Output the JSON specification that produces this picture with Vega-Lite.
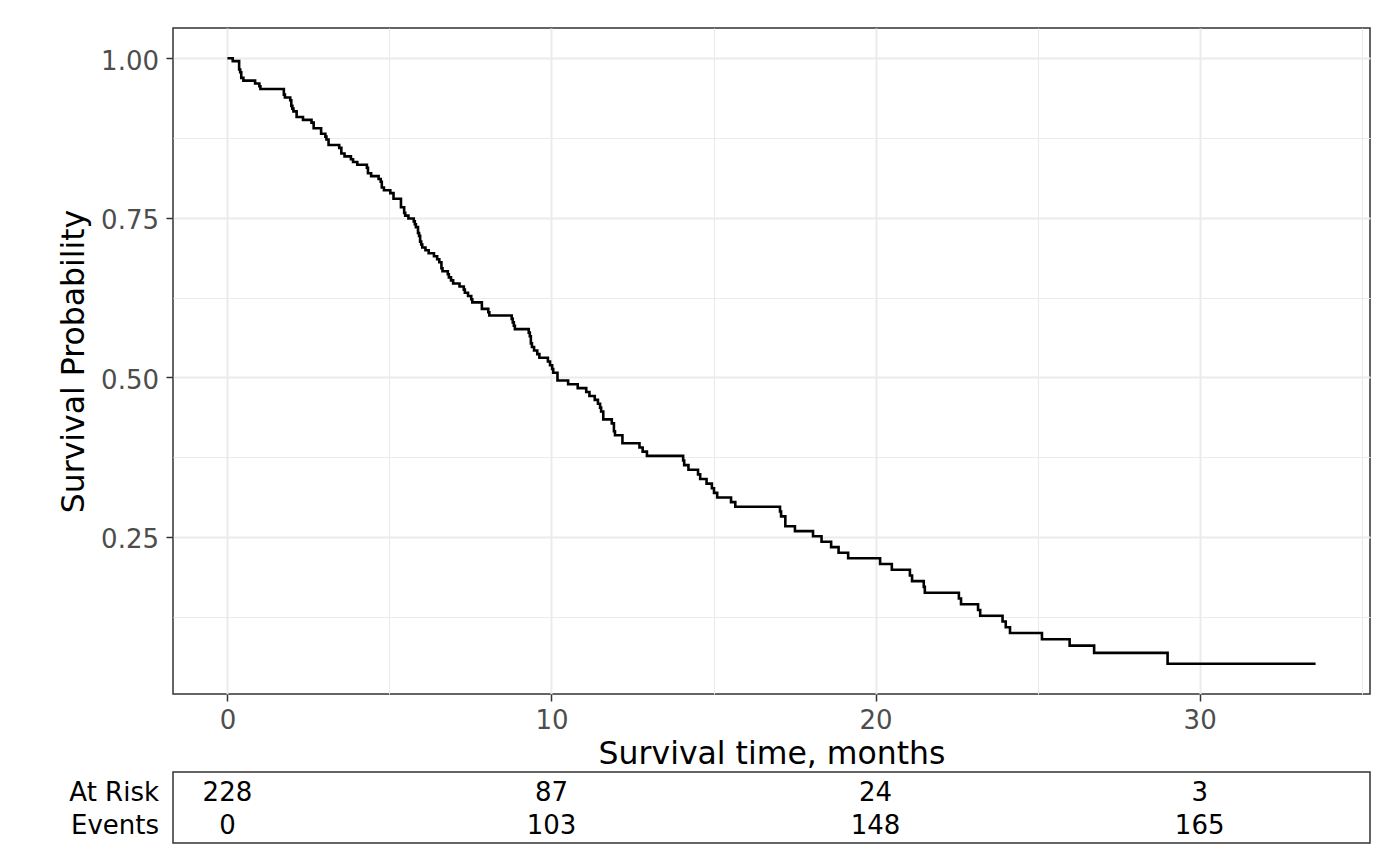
{
  "$schema": "https://vega.github.io/schema/vega-lite/v6.json",
  "padding": {"left": 57, "top": 27, "right": 30, "bottom": 20},
  "background": "white",
  "spacing": 0,
  "config": {
    "font": "DejaVu Sans",
    "view": {"stroke": "#333333", "strokeWidth": 1.5}
  },
  "datasets": {
    "km": [
      {"t": 0, "s": 1.0},
      {"t": 0.1643, "s": 0.9956},
      {"t": 0.3614, "s": 0.9825},
      {"t": 0.3943, "s": 0.9781},
      {"t": 0.4271, "s": 0.9693},
      {"t": 0.4928, "s": 0.9649},
      {"t": 0.8542, "s": 0.9605},
      {"t": 0.9856, "s": 0.9561},
      {"t": 1.0185, "s": 0.9518},
      {"t": 1.7413, "s": 0.943},
      {"t": 1.7741, "s": 0.9386},
      {"t": 1.9384, "s": 0.9342},
      {"t": 1.9713, "s": 0.9254},
      {"t": 2.0041, "s": 0.9211},
      {"t": 2.037, "s": 0.9167},
      {"t": 2.1355, "s": 0.9079},
      {"t": 2.3326, "s": 0.9035},
      {"t": 2.5955, "s": 0.8991},
      {"t": 2.6612, "s": 0.8904},
      {"t": 2.8912, "s": 0.8816},
      {"t": 3.0226, "s": 0.8772},
      {"t": 3.0554, "s": 0.8728},
      {"t": 3.1211, "s": 0.864},
      {"t": 3.4497, "s": 0.8596},
      {"t": 3.5154, "s": 0.8507},
      {"t": 3.614, "s": 0.8463},
      {"t": 3.8111, "s": 0.8418},
      {"t": 3.8768, "s": 0.8374},
      {"t": 4.0082, "s": 0.833},
      {"t": 4.3039, "s": 0.8285},
      {"t": 4.3368, "s": 0.8197},
      {"t": 4.4353, "s": 0.8153},
      {"t": 4.6653, "s": 0.8108},
      {"t": 4.731, "s": 0.8064},
      {"t": 4.7639, "s": 0.7975},
      {"t": 4.8296, "s": 0.7931},
      {"t": 5.0267, "s": 0.7887},
      {"t": 5.1253, "s": 0.7798},
      {"t": 5.3552, "s": 0.7665},
      {"t": 5.4538, "s": 0.7577},
      {"t": 5.4867, "s": 0.7533},
      {"t": 5.5852, "s": 0.7488},
      {"t": 5.7495, "s": 0.7443},
      {"t": 5.7823, "s": 0.7398},
      {"t": 5.8152, "s": 0.7353},
      {"t": 5.8809, "s": 0.7262},
      {"t": 5.9138, "s": 0.7217},
      {"t": 5.9466, "s": 0.7126},
      {"t": 5.9795, "s": 0.7081},
      {"t": 6.0123, "s": 0.7035},
      {"t": 6.1109, "s": 0.699},
      {"t": 6.2094, "s": 0.6944},
      {"t": 6.3737, "s": 0.6898},
      {"t": 6.4723, "s": 0.6851},
      {"t": 6.538, "s": 0.6804},
      {"t": 6.6037, "s": 0.6709},
      {"t": 6.6366, "s": 0.6662},
      {"t": 6.8008, "s": 0.6614},
      {"t": 6.8337, "s": 0.6566},
      {"t": 6.8994, "s": 0.6518},
      {"t": 6.9651, "s": 0.647},
      {"t": 7.1622, "s": 0.6422},
      {"t": 7.2936, "s": 0.6373},
      {"t": 7.3265, "s": 0.6324},
      {"t": 7.4251, "s": 0.6274},
      {"t": 7.5236, "s": 0.6224},
      {"t": 7.5565, "s": 0.6174},
      {"t": 7.8522, "s": 0.6072},
      {"t": 8.0493, "s": 0.602},
      {"t": 8.0821, "s": 0.5968},
      {"t": 8.7721, "s": 0.5915},
      {"t": 8.8049, "s": 0.5861},
      {"t": 8.8378, "s": 0.5808},
      {"t": 8.8706, "s": 0.5754},
      {"t": 9.2977, "s": 0.5699},
      {"t": 9.3306, "s": 0.5643},
      {"t": 9.3634, "s": 0.5531},
      {"t": 9.3963, "s": 0.5475},
      {"t": 9.462, "s": 0.5419},
      {"t": 9.5606, "s": 0.5363},
      {"t": 9.6263, "s": 0.5306},
      {"t": 9.8891, "s": 0.5248},
      {"t": 9.9548, "s": 0.5189},
      {"t": 10.0205, "s": 0.5129},
      {"t": 10.0534, "s": 0.507},
      {"t": 10.1848, "s": 0.495},
      {"t": 10.5133, "s": 0.489},
      {"t": 10.809, "s": 0.483},
      {"t": 11.0719, "s": 0.4768},
      {"t": 11.1704, "s": 0.4707},
      {"t": 11.3347, "s": 0.4646},
      {"t": 11.4333, "s": 0.4585},
      {"t": 11.499, "s": 0.4524},
      {"t": 11.5318, "s": 0.4463},
      {"t": 11.5975, "s": 0.434},
      {"t": 11.8604, "s": 0.4278},
      {"t": 11.9261, "s": 0.4154},
      {"t": 11.9589, "s": 0.4092},
      {"t": 12.1889, "s": 0.3966},
      {"t": 12.7146, "s": 0.39},
      {"t": 12.8131, "s": 0.3834},
      {"t": 12.9446, "s": 0.3768},
      {"t": 14.0616, "s": 0.3696},
      {"t": 14.0945, "s": 0.3623},
      {"t": 14.2259, "s": 0.3551},
      {"t": 14.5216, "s": 0.3478},
      {"t": 14.5873, "s": 0.3406},
      {"t": 14.7844, "s": 0.3333},
      {"t": 14.9487, "s": 0.3261},
      {"t": 15.0144, "s": 0.3188},
      {"t": 15.1129, "s": 0.3116},
      {"t": 15.54, "s": 0.3043},
      {"t": 15.6715, "s": 0.2971},
      {"t": 17.0513, "s": 0.2895},
      {"t": 17.0842, "s": 0.2819},
      {"t": 17.2156, "s": 0.2666},
      {"t": 17.5113, "s": 0.2588},
      {"t": 18.0698, "s": 0.2507},
      {"t": 18.3326, "s": 0.2423},
      {"t": 18.6283, "s": 0.2337},
      {"t": 18.8583, "s": 0.225},
      {"t": 19.154, "s": 0.2164},
      {"t": 20.1396, "s": 0.2074},
      {"t": 20.501, "s": 0.1984},
      {"t": 21.0595, "s": 0.1894},
      {"t": 21.1253, "s": 0.1804},
      {"t": 21.4867, "s": 0.1714},
      {"t": 21.5195, "s": 0.1623},
      {"t": 22.5708, "s": 0.1533},
      {"t": 22.6366, "s": 0.1443},
      {"t": 23.1622, "s": 0.1353},
      {"t": 23.2279, "s": 0.1262},
      {"t": 23.9179, "s": 0.1172},
      {"t": 24.0164, "s": 0.1082},
      {"t": 24.1478, "s": 0.0992},
      {"t": 25.1335, "s": 0.0893},
      {"t": 25.9877, "s": 0.0794},
      {"t": 26.7433, "s": 0.068},
      {"t": 29.0103, "s": 0.051},
      {"t": 33.577, "s": 0.051}
    ],
    "risk": [
      {"row": "At Risk", "t": 0, "n": 228},
      {"row": "At Risk", "t": 10, "n": 87},
      {"row": "At Risk", "t": 20, "n": 24},
      {"row": "At Risk", "t": 30, "n": 3},
      {"row": "Events", "t": 0, "n": 0},
      {"row": "Events", "t": 10, "n": 103},
      {"row": "Events", "t": 20, "n": 148},
      {"row": "Events", "t": 30, "n": 165}
    ]
  },
  "vconcat": [
    {
      "width": 1197,
      "height": 666,
      "data": {"name": "km"},
      "mark": {"type": "line", "interpolate": "step-after", "color": "black", "strokeWidth": 2.6},
      "encoding": {
        "x": {
          "field": "t", "type": "quantitative",
          "scale": {"domain": [-1.67885, 35.25585], "nice": false, "zero": false},
          "axis": {
            "values": [0, 5, 10, 15, 20, 25, 30, 35],
            "title": "Survival time, months",
            "titleFontSize": 31.5, "titleFontWeight": "normal", "titleColor": "black", "titlePadding": 5.5,
            "labelExpr": "datum.value % 10 === 0 ? datum.label : ''",
            "labelFontSize": 26, "labelColor": "#4D4D4D", "labelPadding": 6,
            "labelFlush": false, "labelOverlap": false,
            "tickSize": 7, "tickColor": "#333333", "tickWidth": 1.5,
            "tickOpacity": {"condition": {"test": "datum.value % 10 === 0", "value": 1}, "value": 0},
            "gridColor": "#EBEBEB",
            "gridWidth": {"condition": {"test": "datum.value % 10 === 0", "value": 2}, "value": 1.1},
            "domain": false
          }
        },
        "y": {
          "field": "s", "type": "quantitative",
          "scale": {"domain": [0.00355, 1.04745], "nice": false, "zero": false},
          "axis": {
            "values": [0.125, 0.25, 0.375, 0.5, 0.625, 0.75, 0.875, 1],
            "title": "Survival Probability",
            "titleFontSize": 31.5, "titleFontWeight": "normal", "titleColor": "black", "titlePadding": 10,
            "labelExpr": "(datum.value * 4) % 1 === 0 ? format(datum.value, '.2f') : ''",
            "labelFontSize": 26, "labelColor": "#4D4D4D", "labelPadding": 7.5, "labelOffset": 3,
            "labelOverlap": false,
            "tickSize": 7, "tickColor": "#333333", "tickWidth": 1.5,
            "tickOpacity": {"condition": {"test": "(datum.value * 4) % 1 === 0", "value": 1}, "value": 0},
            "gridColor": "#EBEBEB",
            "gridWidth": {"condition": {"test": "(datum.value * 4) % 1 === 0", "value": 2}, "value": 1.1},
            "domain": false
          }
        }
      }
    },
    {
      "width": 1197,
      "height": 71,
      "data": {"name": "risk"},
      "mark": {"type": "text", "fontSize": 26, "color": "black", "baseline": "middle", "align": "center"},
      "encoding": {
        "x": {
          "field": "t", "type": "quantitative",
          "scale": {"domain": [-1.67885, 35.25585], "nice": false, "zero": false},
          "axis": null
        },
        "y": {
          "field": "row", "type": "nominal", "sort": ["At Risk", "Events"],
          "scale": {"type": "point", "padding": 0.576, "align": 0.54},
          "axis": {
            "title": null, "domain": false, "ticks": false, "tickSize": 0, "grid": false,
            "labelFontSize": 26, "labelColor": "black", "labelPadding": 14.5
          }
        },
        "text": {"field": "n", "type": "quantitative", "format": "d"}
      }
    }
  ]
}
